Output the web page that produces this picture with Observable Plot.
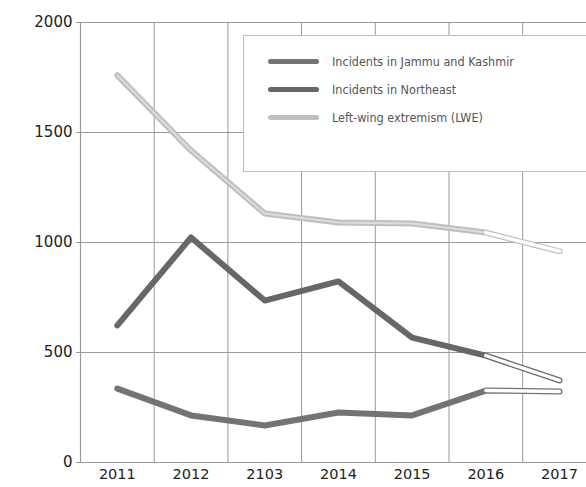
<!DOCTYPE html>
<html>
<head>
<meta charset="utf-8">
<script src="https://cdn.jsdelivr.net/npm/d3@7"></script>
<script src="https://cdn.jsdelivr.net/npm/@observablehq/plot@0.6"></script>
<style>
  html, body { margin: 0; padding: 0; background: #fff; }
  #wrap { position: relative; width: 586px; height: 487px; overflow: hidden; }
  #legend { position: absolute; left: 243px; top: 35px; width: 345px; height: 137px;
    box-sizing: border-box; border: 1px solid #bdbdbd; background: #fff;
    font-family: "DejaVu Sans Condensed", "DejaVu Sans", sans-serif; font-size: 12.5px; color: #555; }
  .item { position: absolute; left: 24px; height: 16px; display: flex; align-items: center; }
  .sw { width: 51px; height: 5px; border-radius: 3px; margin-right: 13px; }
</style>
</head>
<body>
<div id="wrap"></div>
<script>
const years = [2011, 2012, 2013, 2014, 2015, 2016, 2017];
const yearLabels = ["2011", "2012", "2103", "2014", "2015", "2016", "2017"];
const seriesNames = ["Incidents in Jammu and Kashmir", "Incidents in Northeast", "Left-wing extremism (LWE)"];
const jkValues = [336, 214, 168, 227, 214, 327, 323];
const neValues = [623, 1023, 736, 823, 568, 486, 373];
const lweValues = [1760, 1418, 1132, 1091, 1086, 1045, 960];
const yTicks = [0, 500, 1000, 1500, 2000];
const colors = ["#737373", "#676767", "#bfbfbf"];

const allValues = [jkValues, neValues, lweValues];
const rows = [];
seriesNames.forEach((s, i) => years.forEach((y, j) => rows.push({series: s, year: y, value: allValues[i][j]})));
const lastRows = rows.filter(d => d.year >= 2016);
const label = new Map(years.map((y, i) => [y, yearLabels[i]]));
const bounds = years.slice(0, 6).map(y => y + 0.5);

const chart = Plot.plot({
  width: 586, height: 487,
  marginTop: 22, marginBottom: 25, marginLeft: 80, marginRight: 0,
  style: {fontFamily: "'DejaVu Sans', sans-serif", fontSize: "14px", color: "#222", background: "#fff"},
  x: {type: "linear", domain: [2010.5, 2017.366], axis: null},
  y: {domain: [0, 2000], axis: null},
  color: {domain: seriesNames, range: colors},
  marks: [
    Plot.ruleY(yTicks, {stroke: "#9a9a9a", strokeWidth: 1}),
    Plot.ruleX(bounds, {stroke: "#9a9a9a", strokeWidth: 1}),
    Plot.ruleX([2010.5], {stroke: "#9a9a9a", strokeWidth: 1.2}),
    Plot.axisY({ticks: yTicks, label: null, tickSize: 4, tickPadding: 4, fontSize: 15, stroke: "#9a9a9a", tickFormat: d => String(d)}),
    Plot.axisX({ticks: years, label: null, tickSize: 0, tickPadding: 6, fontSize: 14.5, tickFormat: d => label.get(d)}),
    Plot.line(rows, {x: "year", y: "value", z: "series", stroke: "series", strokeWidth: 6, strokeLinecap: "round", strokeLinejoin: "round"}),
    Plot.line(rows.filter(d => d.series === seriesNames[2] && d.year <= 2016), {x: "year", y: "value", stroke: "#dcdcdc", strokeWidth: 2, strokeLinecap: "round", strokeLinejoin: "round"}),
    Plot.line(lastRows, {x: "year", y: "value", z: "series", stroke: "#fff", strokeWidth: 3.5, strokeLinecap: "round", strokeLinejoin: "round"})
  ]
});
const wrap = document.getElementById("wrap");
wrap.appendChild(chart);

const legend = document.createElement("div");
legend.id = "legend";
seriesNames.forEach((s, i) => {
  const it = document.createElement("div");
  it.className = "item";
  it.style.top = (17 + i * 28) + "px";
  const sw = document.createElement("div");
  sw.className = "sw";
  sw.style.background = colors[i];
  const tx = document.createElement("span");
  tx.textContent = s;
  it.appendChild(sw); it.appendChild(tx);
  legend.appendChild(it);
});
wrap.appendChild(legend);
</script>
</body>
</html>
